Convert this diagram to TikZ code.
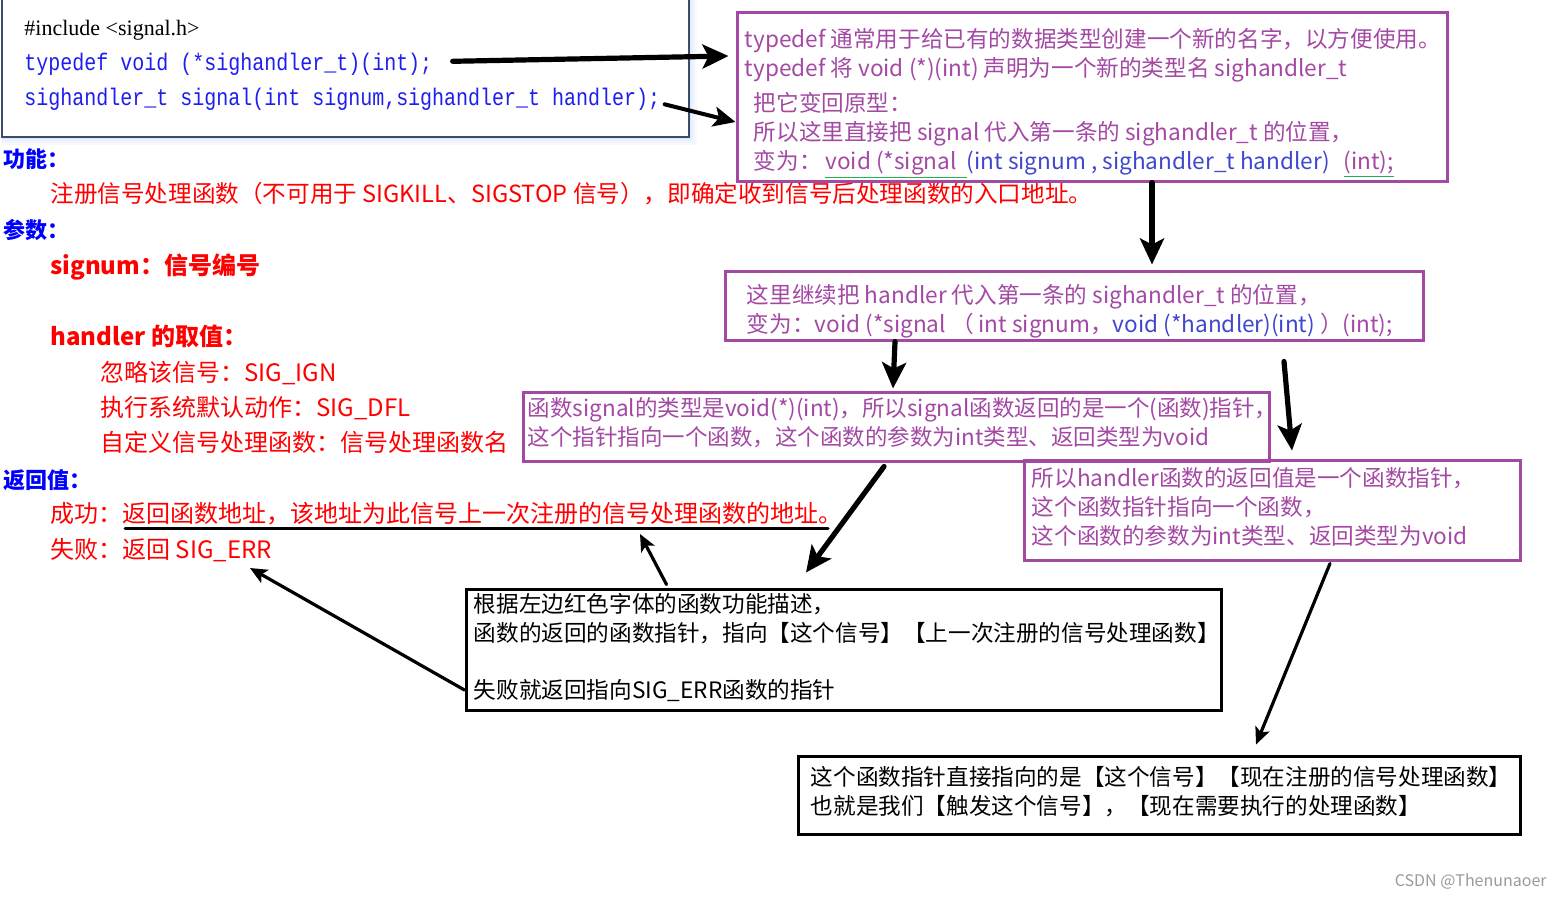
\documentclass[tikz,border=0pt]{standalone}
\usepackage{fontspec}
\setmainfont{Noto Sans CJK SC}
\newfontfamily\codefont[FakeStretch=0.833]{Liberation Mono}
\newfontfamily\incfont{Liberation Serif}
\usetikzlibrary{arrows.meta}
\definecolor{paintpurple}{HTML}{A349A4}
\definecolor{paintblue}{HTML}{3F48CC}
\definecolor{paintgreen}{HTML}{22B14C}
\definecolor{codeblue}{HTML}{1E1EF0}
\definecolor{codeglow}{HTML}{B9D3F2}
\definecolor{codeframe}{HTML}{3B4C6E}
\definecolor{markgray}{HTML}{9A9A9A}
\newcommand\greenline[1]{{\color{paintgreen}\underline{\color{paintpurple}#1}}}

\begin{document}
\begin{tikzpicture}[x=0.5pt,y=-0.5pt,
  purplebox/.style={draw=paintpurple,line width=1.5pt,inner sep=0pt},
  blackbox/.style={draw=black,line width=1.5pt,inner sep=0pt},
  boxtext/.style={anchor=west,inner sep=0pt,align=left,font=\fontsize{11.3pt}{14.5pt}\selectfont},
  purpletext/.style={boxtext,text=paintpurple},
  redtext/.style={anchor=base west,inner sep=0pt,text=red,font=\fontsize{12pt}{14pt}\selectfont},
  headtext/.style={anchor=base west,inner sep=0pt,text=blue,font=\fontsize{11pt}{14pt}\selectfont\bfseries},
  codetext/.style={anchor=base west,inner sep=0pt,text=codeblue,font=\codefont\fontsize{12pt}{14pt}\selectfont},
  bigarrow/.style={line width=2.6pt,line cap=round,-{Stealth[length=13pt,width=12pt,inset=3pt]}},
  midarrow/.style={line width=2pt,line cap=round,-{Stealth[length=11pt,width=10pt,inset=2.5pt]}},
  thinarrow/.style={line width=1.6pt,line cap=round,-{Stealth[length=8.5pt,width=7.5pt,inset=2pt]}}]
\useasboundingbox (0,0) rectangle (1562,896);

% code box with its glow
\foreach \d/\c in {8/12,6/20,4/32,2/50}
  \fill[codeglow!\c!white] (2,-10) rectangle (689+\d,137+\d);
\filldraw[fill=white,draw=codeframe,line width=0.6pt] (2,-10) rectangle (689,137);
\node[anchor=base west,inner sep=0pt,font=\incfont\fontsize{11pt}{14pt}\selectfont] (include) at (24,35) {\#include <signal.h>};
\node[codetext] (tdef) at (24,70) {typedef void (*sighandler\_t)(int);};
\node[codetext] (sigproto) at (24,105) {sighandler\_t signal(int signum,sighandler\_t handler);};

% left column
\node[headtext] (gnHead) at (3,167) {功能：};
\node[redtext,font=\fontsize{11.8pt}{14pt}\selectfont] (gnText) at (50,202) {注册信号处理函数（不可用于 SIGKILL、SIGSTOP 信号），即确定收到信号后处理函数的入口地址。};
\node[headtext] (csHead) at (3,238) {参数：};
\node[redtext,font=\fontsize{12pt}{14pt}\selectfont\bfseries] (signumTxt) at (50,274) {signum：信号编号};
\node[redtext,font=\fontsize{12pt}{14pt}\selectfont\bfseries] (handlerTxt) at (50,345) {handler 的取值：};
\node[redtext] (ignTxt) at (100,381) {忽略该信号：SIG\_IGN};
\node[redtext] (dflTxt) at (100,416) {执行系统默认动作：SIG\_DFL};
\node[redtext] (userTxt) at (100,451) {自定义信号处理函数：信号处理函数名};
\node[headtext] (fhHead) at (3,488) {返回值：};
\node[redtext] (okTxt) at (50,522) {成功：返回函数地址，该地址为此信号上一次注册的信号处理函数的地址。};
\node[redtext] (errTxt) at (50,558) {失败：返回 SIG\_ERR};
\coordinate (ulLeft) at (125,528);
\coordinate (ulRight) at (828,528);
\draw[line width=1.5pt,line cap=round] (ulLeft) -- (ulRight);
\coordinate (ulTip) at (640,534);
\coordinate (errTip) at (250,568);

% boxes
\node[purplebox,minimum width=355pt,minimum height=84.5pt] (boxTypedef) at (1092,96.5) {};
\node[purpletext] (txtTypedef) at ([xshift=4.5pt,yshift=-3.5pt]boxTypedef.west) {%
  typedef 通常用于给已有的数据类型创建一个新的名字，以方便使用。\\
  typedef 将 void (*)(int) 声明为一个新的类型名 sighandler\_t\\[3pt]
  \hspace{4.5pt}把它变回原型：\\
  \hspace{4.5pt}所以这里直接把 signal 代入第一条的 sighandler\_t 的位置，\\
  \hspace{4.5pt}变为：\,\greenline{void (*signal\ \ }\textcolor{paintblue}{(int signum , sighandler\_t handler)}\hspace{7pt}\greenline{(int);}};

\node[purplebox,minimum width=349pt,minimum height=34.5pt] (boxHandler) at (1074,305.5) {};
\node[purpletext] (txtHandler) at ([xshift=11.5pt,yshift=-2.75pt]boxHandler.west) {%
  这里继续把 handler 代入第一条的 sighandler\_t 的位置，\\
  变为：void (*signal （ int signum，\textcolor{paintblue}{void (*handler)(int)} ）(int);};

\node[purplebox,minimum width=373pt,minimum height=34.5pt] (boxSigType) at (896,426.5) {};
\node[purpletext,font=\fontsize{11.25pt}{14.5pt}\selectfont] (txtSigType) at ([xshift=3pt,yshift=2pt]boxSigType.west) {%
  函数signal的类型是void(*)(int)，所以signal函数返回的是一个(函数)指针，\\
  这个指针指向一个函数，这个函数的参数为int类型、返回类型为void};

\node[purplebox,minimum width=248pt,minimum height=50pt] (boxRet) at (1272,510) {};
\node[purpletext] (txtRet) at ([xshift=4.5pt,yshift=1.5pt]boxRet.west) {%
  所以handler函数的返回值是一个函数指针，\\
  这个函数指针指向一个函数，\\
  这个函数的参数为int类型、返回类型为void};

\node[blackbox,minimum width=377.5pt,minimum height=60.5pt] (boxLeft) at (843.5,649.5) {};
\node[boxtext] (txtLeft) at ([xshift=4.5pt,yshift=1.25pt]boxLeft.west) {%
  根据左边红色字体的函数功能描述，\\
  函数的返回的函数指针，指向【这个信号】【上一次注册的信号处理函数】\\[14pt]
  失败就返回指向SIG\_ERR函数的指针};

\node[blackbox,minimum width=361pt,minimum height=39pt] (boxNow) at (1159,795) {};
\node[boxtext] (txtNow) at ([xshift=7pt,yshift=1.5pt]boxNow.west) {%
  这个函数指针直接指向的是【这个信号】【现在注册的信号处理函数】\\
  也就是我们【触发这个信号】，【现在需要执行的处理函数】};

% arrows
\draw[bigarrow] ([xshift=10pt,yshift=1.25pt]tdef.east) -- ([xshift=-3.5pt,yshift=20.25pt]boxTypedef.west);
\draw[midarrow] ([xshift=2pt,yshift=-2.75pt]sigproto.east) -- ([yshift=-12.75pt]boxTypedef.west);
\draw[bigarrow] ([xshift=30pt]boxTypedef.south) -- ([xshift=39pt,yshift=2.5pt]boxHandler.north);
\draw[bigarrow] ([xshift=-89.5pt]boxHandler.south) -- ([xshift=-1.5pt,yshift=1pt]boxSigType.north);
\draw[bigarrow] ([xshift=105pt,yshift=-10pt]boxHandler.south) -- ([xshift=10pt,yshift=4pt]boxRet.north);
\draw[bigarrow] ([xshift=-6pt,yshift=-2pt]boxSigType.south) -- ([xshift=-18.75pt,yshift=7.5pt]boxLeft.north);
\draw[thinarrow] ([xshift=101pt,yshift=1.5pt]boxLeft.north west) -- (ulTip);
\draw[thinarrow] ([yshift=-20.25pt]boxLeft.west) -- (errTip);
\draw[thinarrow] ([xshift=29pt,yshift=-1pt]boxRet.south) -- ([xshift=48.5pt,yshift=5pt]boxNow.north);

\node[anchor=base east,inner sep=0pt,text=markgray,font=\fontsize{8pt}{10pt}\selectfont] (mark) at (1547,886) {CSDN @Thenunaoer};
\end{tikzpicture}
\end{document}
